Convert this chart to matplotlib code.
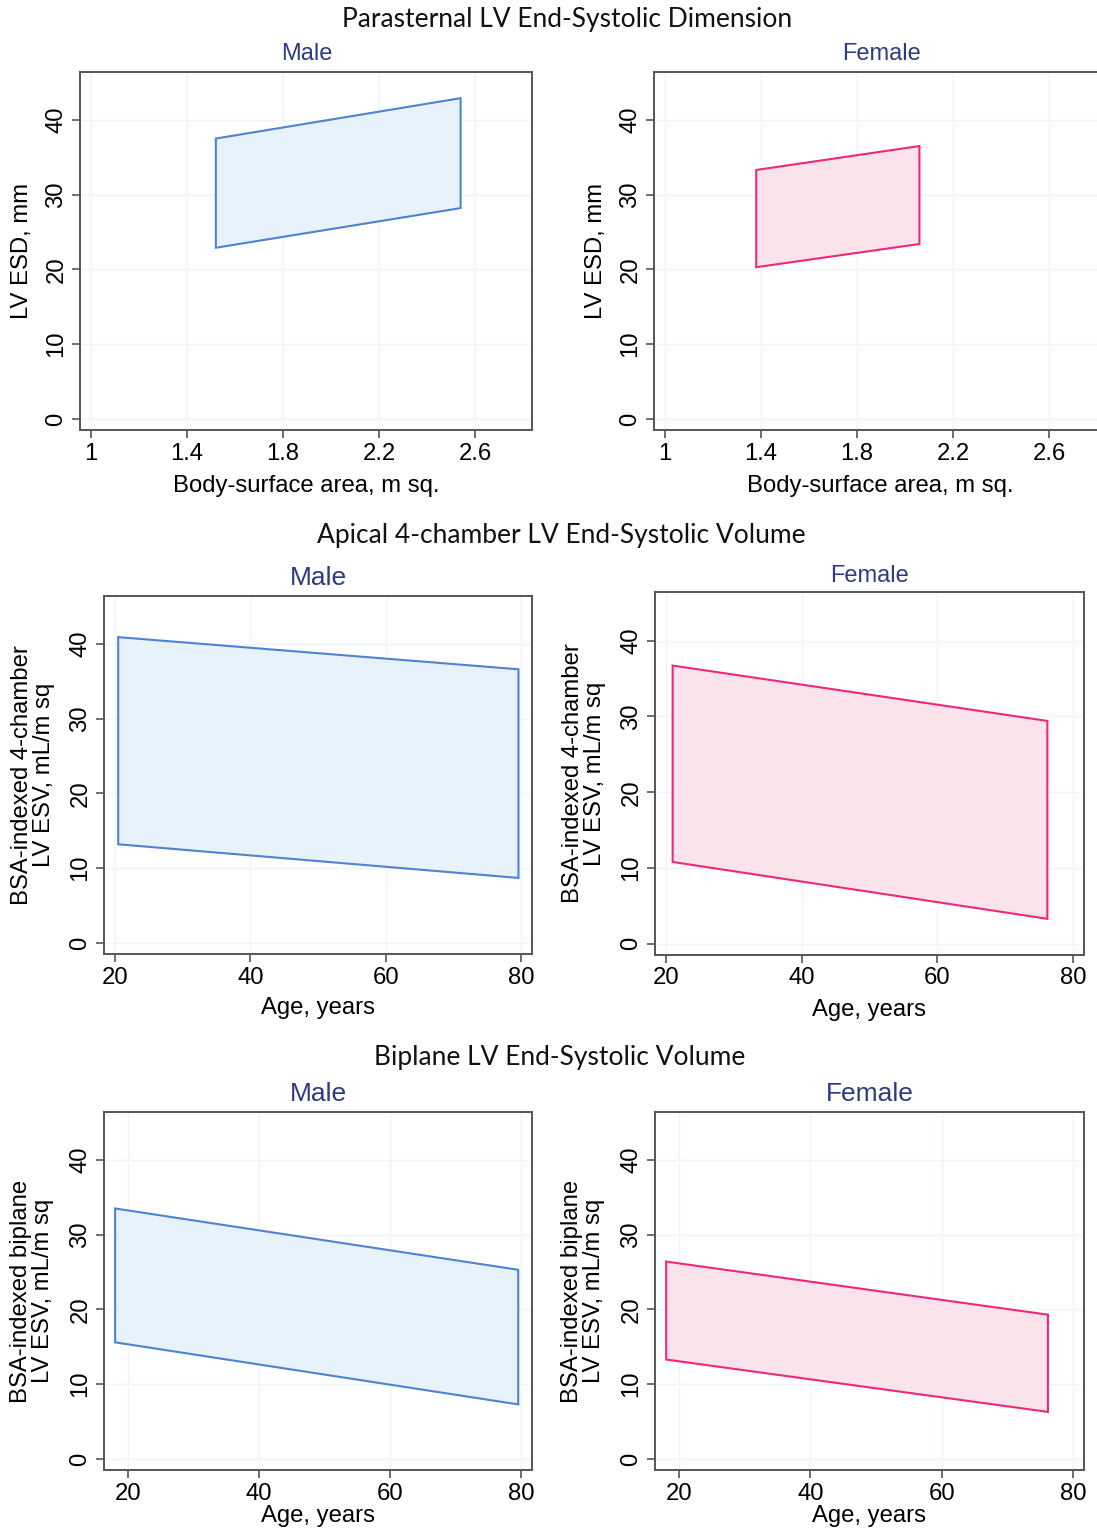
import numpy as np
import matplotlib
matplotlib.use("Agg")
import matplotlib.pyplot as plt

# ---------------- data ----------------
bsa_male = [1.52, 2.54]
esd_male_upper = [37.5, 42.9]
esd_male_lower = [22.9, 28.2]
bsa_female = [1.38, 2.06]
esd_female_upper = [33.3, 36.5]
esd_female_lower = [20.3, 23.4]

age_a4c_male = [20.5, 79.6]
a4c_male_upper = [40.9, 36.6]
a4c_male_lower = [13.2, 8.7]
age_a4c_female = [21.0, 76.2]
a4c_female_upper = [36.7, 29.4]
a4c_female_lower = [10.8, 3.3]

age_bp_male = [18.0, 79.6]
bp_male_upper = [33.5, 25.3]
bp_male_lower = [15.6, 7.3]
age_bp_female = [18.0, 76.2]
bp_female_upper = [26.4, 19.3]
bp_female_lower = [13.3, 6.3]

bsa_ticks = [1, 1.4, 1.8, 2.2, 2.6]
bsa_ticklabels = ["1", "1.4", "1.8", "2.2", "2.6"]
age_ticks = [20, 40, 60, 80]
y_ticks = [0, 10, 20, 30, 40]

row_titles = ["Parasternal LV End-Systolic Dimension",
              "Apical 4-chamber LV End-Systolic Volume",
              "Biplane LV End-Systolic Volume"]
sex_titles = ["Male", "Female"]
ylabels = ["LV ESD, mm",
           "BSA-indexed 4-chamber\nLV ESV, mL/m sq",
           "BSA-indexed biplane\nLV ESV, mL/m sq"]
xlabels = ["Body-surface area, m sq.", "Age, years", "Age, years"]

# ---------------- style ----------------
W, H = 1097, 1531
fig = plt.figure(figsize=(W / 100, H / 100), dpi=100)
fig.patch.set_facecolor("white")

SANS = ["Liberation Sans", "DejaVu Sans"]
TITLE_FONT = ["Lato", "DejaVu Sans"]
NAVY = "#2d3b80"
SPINE = "#555555"
GRID = "#eef4f7"
MALE_EDGE, MALE_FILL = "#4f82d2", "#e8f2fa"
FEM_EDGE, FEM_FILL = "#f0287a", "#fbe3ec"
FS = 17.2


def ax_at(l, t, r, b):
    return fig.add_axes([l / W, 1 - b / H, (r - l) / W, (b - t) / H])


def style(ax, xticks, xticklabels, xlim, ylim, xlabel, ylabel, xl_y, yl_x):
    ax.set_xlim(*xlim)
    ax.set_ylim(*ylim)
    ax.set_xticks(xticks)
    ax.set_xticklabels(xticklabels, family=SANS, fontsize=FS)
    ax.set_yticks(y_ticks)
    ax.set_yticklabels([str(v) for v in y_ticks], family=SANS, fontsize=FS,
                       rotation=90, va="center")
    ax.grid(True, color=GRID, lw=1.0)
    ax.set_axisbelow(True)
    for s in ax.spines.values():
        s.set_color(SPINE)
        s.set_linewidth(1.4)
    ax.tick_params(axis="both", direction="out", length=6, width=1.2,
                   color=SPINE, pad=3)
    ax.set_xlabel(xlabel, family=SANS, fontsize=FS, va="center")
    ax.xaxis.set_label_coords(0.5, xl_y)
    ax.set_ylabel(ylabel, family=SANS, fontsize=FS, va="center",
                  linespacing=1.0)
    ax.yaxis.set_label_coords(yl_x, 0.5)


def band(ax, x, lower, upper, edge, fill):
    xs = np.r_[x, x[::-1]]
    ys = np.r_[lower, upper[::-1]]
    ax.fill(xs, ys, facecolor=fill, edgecolor=edge, lw=1.5, zorder=3)


ylim = (-1.47, 46.4)

# ---------------- row 1 ----------------
ax1 = ax_at(80, 72, 532, 430)
ax2 = ax_at(654, 72, 1106, 430)
for ax, x, lo, up, ec, fc in [
        (ax1, bsa_male, esd_male_lower, esd_male_upper, MALE_EDGE, MALE_FILL),
        (ax2, bsa_female, esd_female_lower, esd_female_upper, FEM_EDGE, FEM_FILL)]:
    band(ax, np.array(x), np.array(lo), np.array(up), ec, fc)
    style(ax, bsa_ticks, bsa_ticklabels, (0.954, 2.8375), ylim,
          xlabels[0], ylabels[0], -0.156, -0.128)

# ---------------- row 2 ----------------
ax3 = ax_at(104, 596, 532, 954)
ax4 = ax_at(655, 592, 1084, 955)
for ax, x, lo, up, ec, fc in [
        (ax3, age_a4c_male, a4c_male_lower, a4c_male_upper, MALE_EDGE, MALE_FILL),
        (ax4, age_a4c_female, a4c_female_lower, a4c_female_upper, FEM_EDGE, FEM_FILL)]:
    band(ax, np.array(x), np.array(lo), np.array(up), ec, fc)
    style(ax, age_ticks, [str(v) for v in age_ticks], (18.4, 81.6), ylim,
          xlabels[1], ylabels[1], -0.151, -0.165)

# ---------------- row 3 ----------------
ax5 = ax_at(104, 1112, 532, 1470)
ax6 = ax_at(655, 1112, 1084, 1470)
for ax, x, lo, up, ec, fc in [
        (ax5, age_bp_male, bp_male_lower, bp_male_upper, MALE_EDGE, MALE_FILL),
        (ax6, age_bp_female, bp_female_lower, bp_female_upper, FEM_EDGE, FEM_FILL)]:
    band(ax, np.array(x), np.array(lo), np.array(up), ec, fc)
    style(ax, age_ticks, [str(v) for v in age_ticks], (16.3, 81.7), ylim,
          xlabels[2], ylabels[2], -0.128, -0.168)

# ---------------- titles ----------------
def ftext(x, y, s, **kw):
    fig.text(x / W, 1 - y / H, s, ha="center", va="center", **kw)

ftext(567, 20, row_titles[0], family=TITLE_FONT, fontsize=19, color="#111111")
ftext(561, 536, row_titles[1], family=TITLE_FONT, fontsize=19, color="#111111")
ftext(560, 1058, row_titles[2], family=TITLE_FONT, fontsize=19, color="#111111")

ftext(307, 54, sex_titles[0], family=SANS, fontsize=17, color=NAVY)
ftext(881, 54, sex_titles[1], family=SANS, fontsize=17, color=NAVY)
ftext(318, 578, sex_titles[0], family=SANS, fontsize=19, color=NAVY)
ftext(870, 576, sex_titles[1], family=SANS, fontsize=17, color=NAVY)
ftext(318, 1094, sex_titles[0], family=SANS, fontsize=19, color=NAVY)
ftext(870, 1094, sex_titles[1], family=SANS, fontsize=19, color=NAVY)

fig.savefig("out.png", dpi=100, facecolor="white")
